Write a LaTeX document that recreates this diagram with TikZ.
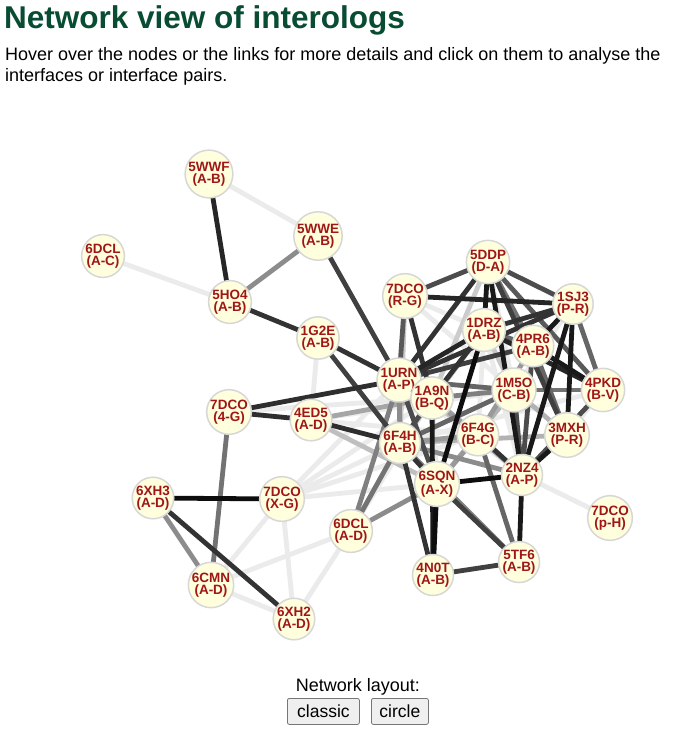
\documentclass[tikz,border=0pt]{standalone}
\usepackage{fontspec}
\setmainfont{Liberation Sans}
\usetikzlibrary{backgrounds}
\definecolor{titlegreen}{RGB}{8,76,50}
\definecolor{labred}{RGB}{160,22,22}
\definecolor{nodefill}{RGB}{255,255,222}
\definecolor{nodeedge}{RGB}{215,215,215}
\definecolor{btnfill}{RGB}{239,239,239}
\definecolor{btnedge}{RGB}{118,118,118}
\tikzset{
  prot/.style={circle, minimum size=38pt, inner sep=0pt, fill=nodefill, draw=nodeedge, line width=1.5pt,
    align=center, text=labred, font=\fontsize{13.5}{12.2}\selectfont\bfseries},
  lnk/.style={line width=4.8pt, draw=black!#1},
  bodytext/.style={inner sep=0pt, font=\fontsize{18}{21}\selectfont},
  btn/.style={draw=btnedge, fill=btnfill, rounded corners=2pt, line width=0.8pt, minimum height=26pt,
    inner xsep=6pt, font=\fontsize{17.5}{19}\selectfont},
}
\begin{document}
\begin{tikzpicture}[x=1pt,y=-1pt]
\useasboundingbox (0,0) rectangle (675,733);
\node[anchor=base west, text=titlegreen, font=\fontsize{31.5}{34}\selectfont\bfseries, inner sep=0pt] (title) at (4,29) {Network view of interologs};
\node[bodytext, anchor=base west] (intro1) at (5,61) {Hover over the nodes or the links for more details and click on them to analyse the};
\node[bodytext, anchor=base west] (intro2) at (5,82) {interfaces or interface pairs.};

% nodes
\node[prot] (wwf) at (209,174) {5WWF\\(A-B)};
\node[prot] (wwe) at (318,236) {5WWE\\(A-B)};
\node[prot] (dclc) at (103,256) {6DCL\\(A-C)};
\node[prot] (ho4) at (230,302) {5HO4\\(A-B)};
\node[prot] (g2e) at (318,338) {1G2E\\(A-B)};
\node[prot] (rg) at (405,296) {7DCO\\(R-G)};
\node[prot] (ddp) at (488,262) {5DDP\\(D-A)};
\node[prot] (sj3) at (573,304) {1SJ3\\(P-R)};
\node[prot] (drz) at (484,330) {1DRZ\\(A-B)};
\node[prot] (pr6) at (533,346) {4PR6\\(A-B)};
\node[prot] (urn) at (399,380) {1URN\\(A-P)};
\node[prot] (a9n) at (432,398) {1A9N\\(B-Q)};
\node[prot] (m5o) at (514,390) {1M5O\\(C-B)};
\node[prot] (pkd) at (603,390) {4PKD\\(B-V)};
\node[prot] (g4) at (229,412) {7DCO\\(4-G)};
\node[prot] (ed5) at (311,420) {4ED5\\(A-D)};
\node[prot] (f4h) at (400,443) {6F4H\\(A-B)};
\node[prot] (f4g) at (478,435) {6F4G\\(B-C)};
\node[prot] (mxh) at (567,435) {3MXH\\(P-R)};
\node[prot] (sqn) at (437,484) {6SQN\\(A-X)};
\node[prot] (nz4) at (522,475) {2NZ4\\(A-P)};
\node[prot] (xh3) at (153,498) {6XH3\\(A-D)};
\node[prot] (xg) at (282,499) {7DCO\\(X-G)};
\node[prot] (dcld) at (351,531) {6DCL\\(A-D)};
\node[prot] (ph) at (610,518) {7DCO\\(p-H)};
\node[prot] (n0t) at (433,575) {4N0T\\(A-B)};
\node[prot] (tf6) at (519,562) {5TF6\\(A-B)};
\node[prot] (cmn) at (211,585) {6CMN\\(A-D)};
\node[prot] (xh2) at (294,619) {6XH2\\(A-D)};

\begin{scope}[on background layer]
\fill[white] (0,0) rectangle (675,733);
% light links
\foreach \a/\b in {wwf/wwe, dclc/ho4, g2e/ed5, cmn/xg, cmn/dcld, cmn/xh2, xg/xh2, dcld/xh2,
  xg/f4h, xg/a9n, xg/sqn, xg/urn, xg/f4g, g4/a9n, rg/drz, rg/m5o, ddp/m5o, ddp/f4g, sj3/m5o,
  drz/nz4, pkd/mxh, nz4/ph, dcld/a9n, ed5/f4g, ed5/m5o, g2e/a9n, pkd/f4h, a9n/sqn, urn/nz4}
  \draw[lnk=8] (\a.center) -- (\b.center);
\foreach \a/\b/\c in {rg/f4h/22, ddp/a9n/20, drz/f4h/30, drz/m5o/22, urn/f4g/25, a9n/f4g/30,
  m5o/sqn/30, m5o/mxh/30, f4h/mxh/30, ed5/a9n/35, ed5/sqn/25, pr6/f4g/40, f4h/f4g/40, f4g/sqn/40,
  a9n/nz4/40, ho4/wwe/45, xh3/cmn/45, urn/f4h/45, f4h/nz4/45, dcld/sqn/45, g4/cmn/55,
  urn/a9n/50, a9n/m5o/50, dcld/urn/50, f4h/tf6/50, ddp/pr6/55, m5o/pkd/55, dcld/f4h/55,
  pr6/mxh/60, drz/pr6/60, sj3/pkd/60, urn/m5o/60, m5o/f4h/60, f4g/tf6/60, rg/urn/65,
  ddp/pkd/65, urn/sqn/70, a9n/f4h/70, m5o/nz4/70, pkd/nz4/70, pr6/nz4/70, rg/ddp/70, ddp/sj3/70,
  wwe/urn/75, g2e/f4h/75, ddp/mxh/75, pr6/urn/75, sqn/tf6/75, n0t/tf6/75,
  ho4/g2e/80, g2e/urn/80, g4/urn/82, g4/ed5/82, ed5/f4h/82, rg/a9n/80, ddp/urn/80, sj3/drz/80,
  sj3/urn/80, drz/a9n/80, f4h/sqn/80, f4h/n0t/80, f4g/nz4/80, xh3/xh2/80,
  wwf/ho4/85, rg/sj3/85, drz/urn/85, drz/pkd/85, ddp/drz/90, ddp/nz4/90, sj3/pr6/90,
  sj3/mxh/90, sj3/nz4/90, pr6/pkd/90, mxh/nz4/90, a9n/n0t/90, nz4/tf6/90,
  drz/sqn/95, sqn/nz4/95, sqn/n0t/95, xh3/xg/95}
  \draw[lnk=\c] (\a.center) -- (\b.center);
\end{scope}

% layout controls
\node[bodytext, anchor=base] (lay) at (358,691) {Network layout:};
\node[btn, anchor=north west, minimum width=72pt] (classic) at (287,698) {classic};
\node[btn, anchor=north west, minimum width=57pt] (circle) at (371,698) {circle};
\end{tikzpicture}
\end{document}
